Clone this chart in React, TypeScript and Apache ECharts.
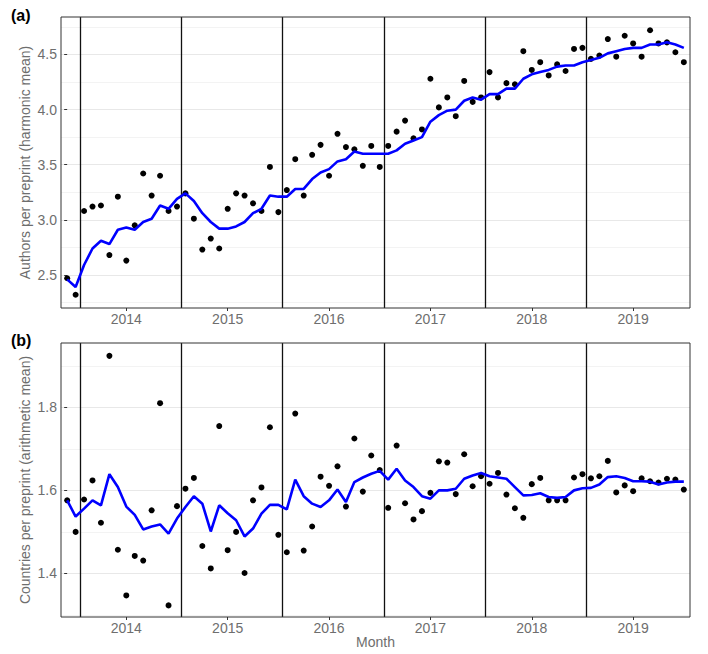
import React, { useEffect, useRef } from "react";
import * as echarts from "echarts";

// Months: Nov 2013 .. Dec 2019 (74 months)
const years = [2013, 2014, 2015, 2016, 2017, 2018, 2019];
const months: string[] = [];
years.forEach((y) => {
  for (let m = 1; m <= 12; m++) {
    if (y === 2013 && m < 11) continue;
    months.push(`${y}-${String(m).padStart(2, "0")}`);
  }
});

const yearLabels = ["2014", "2015", "2016", "2017", "2018", "2019"];

// Panel (a): authors per preprint (harmonic mean)
const authorsPoints = [
  2.47, 2.32,
  3.08, 3.12, 3.13, 2.68, 3.21, 2.63, 2.95, 3.42, 3.22, 3.40, 3.08, 3.12,
  3.24, 3.01, 2.73, 2.83, 2.74, 3.10, 3.24, 3.22, 3.15, 3.08, 3.48, 3.07,
  3.27, 3.55, 3.22, 3.59, 3.68, 3.40, 3.78, 3.66, 3.64, 3.49, 3.67, 3.48,
  3.67, 3.80, 3.90, 3.74, 3.82, 4.28, 4.02, 4.11, 3.94, 4.26, 4.07, 4.11,
  4.34, 4.11, 4.24, 4.23, 4.53, 4.36, 4.43, 4.31, 4.41, 4.35, 4.55, 4.56,
  4.46, 4.49, 4.64, 4.48, 4.67, 4.60, 4.48, 4.72, 4.60, 4.61, 4.52, 4.43,
];
const authorsTrend = [
  2.46, 2.39,
  2.59, 2.74, 2.81, 2.78, 2.91, 2.93, 2.91, 2.98, 3.01, 3.13, 3.10, 3.19,
  3.24, 3.17, 3.06, 2.98, 2.92, 2.92, 2.94, 2.98, 3.06, 3.10, 3.22, 3.21,
  3.21, 3.28, 3.28, 3.37, 3.43, 3.46, 3.53, 3.55, 3.62, 3.60, 3.60, 3.60,
  3.60, 3.63, 3.69, 3.72, 3.75, 3.89, 3.95, 3.99, 4.00, 4.08, 4.11, 4.09,
  4.14, 4.14, 4.19, 4.19, 4.28, 4.32, 4.34, 4.36, 4.39, 4.40, 4.40, 4.43,
  4.45, 4.47, 4.51, 4.53, 4.55, 4.56, 4.56, 4.59, 4.59, 4.61, 4.59, 4.56,
];

// Panel (b): countries per preprint (arithmetic mean)
const countriesPoints = [
  1.576, 1.5,
  1.578, 1.624, 1.522, 1.924, 1.457, 1.347, 1.442, 1.431, 1.552, 1.81, 1.323, 1.562,
  1.604, 1.63, 1.466, 1.412, 1.755, 1.456, 1.5, 1.401, 1.576, 1.607, 1.752, 1.493,
  1.451, 1.785, 1.455, 1.513, 1.633, 1.611, 1.658, 1.561, 1.725, 1.597, 1.684, 1.649,
  1.558, 1.708, 1.569, 1.53, 1.55, 1.594, 1.67, 1.667, 1.591, 1.687, 1.61, 1.634,
  1.616, 1.642, 1.59, 1.557, 1.534, 1.615, 1.63, 1.576, 1.576, 1.576, 1.631, 1.639,
  1.629, 1.634, 1.671, 1.595, 1.612, 1.598, 1.629, 1.622, 1.619, 1.628, 1.626, 1.602,
];
const countriesTrend = [
  1.576, 1.537,
  1.556, 1.576, 1.564, 1.639, 1.608, 1.561, 1.541, 1.506, 1.513, 1.518, 1.496, 1.532,
  1.56, 1.586, 1.568, 1.501, 1.564, 1.545, 1.528, 1.489, 1.508, 1.544, 1.565, 1.565,
  1.554, 1.626, 1.586, 1.568, 1.56, 1.576, 1.602, 1.572, 1.62, 1.631, 1.64, 1.647,
  1.626, 1.652, 1.624, 1.608, 1.586, 1.58, 1.6, 1.6, 1.604, 1.628, 1.636, 1.642,
  1.634, 1.631, 1.628, 1.608, 1.588, 1.589, 1.593, 1.584, 1.582, 1.584, 1.6, 1.605,
  1.606, 1.614, 1.632, 1.634, 1.63, 1.622, 1.622, 1.621, 1.614, 1.619, 1.621, 1.621,
];

const authorsMajor = [2.5, 3.0, 3.5, 4.0, 4.5];
const authorsMinor = [2.25, 2.75, 3.25, 3.75, 4.25, 4.75];
const countriesMajor = [1.4, 1.6, 1.8];
const countriesMinor = [1.3, 1.5, 1.7, 1.9];

const FONT = "'Liberation Sans', Arial, Helvetica, sans-serif";
const TEXT_GRAY = "#6e6e6e";

const idx = (label: string) => months.indexOf(label);
const yearStarts = yearLabels.map((y) => idx(`${y}-01`) - 0.5);
const yearMids = yearLabels.map((y) => idx(`${y}-06`));

function App() {
  const ref = useRef<HTMLDivElement>(null);
  useEffect(() => {
    document.body.style.margin = "0";
    if (!ref.current) return;
    const chart = echarts.init(ref.current, undefined, { renderer: "svg" });

    const xAxisFor = (gridIndex: number) => ({
      type: "value",
      gridIndex,
      min: -0.73,
      max: months.length - 1 + 0.73,
      splitLine: { show: false },
      axisLine: { show: false },
      axisTick: {
        show: true,
        length: 3,
        customValues: yearMids,
        lineStyle: { color: "#333", width: 1 },
      },
      axisLabel: {
        customValues: yearMids,
        color: TEXT_GRAY,
        fontSize: 14,
        fontFamily: FONT,
        margin: 4,
        formatter: (v: number) => yearLabels[yearMids.indexOf(Math.round(v))] ?? "",
      },
      ...(gridIndex === 1
        ? {
            name: "Month",
            nameLocation: "middle",
            nameGap: 18,
            nameMoveOverlap: false,
            nameTextStyle: { color: TEXT_GRAY, fontSize: 14, fontFamily: FONT, verticalAlign: "top" },
          }
        : {}),
    });

    const yAxisFor = (gridIndex: number, min: number, max: number, ticks: number[], name: string) => ({
      type: "value",
      gridIndex,
      min,
      max,
      name,
      nameLocation: "middle",
      nameGap: 29,
      nameMoveOverlap: false,
      nameTextStyle: { color: TEXT_GRAY, fontSize: 14, fontFamily: FONT },
      splitLine: { show: false },
      axisLine: { show: false },
      axisTick: {
        show: true,
        length: 3,
        customValues: ticks,
        lineStyle: { color: "#333", width: 1 },
      },
      axisLabel: {
        customValues: ticks,
        color: TEXT_GRAY,
        fontSize: 14,
        fontFamily: FONT,
        margin: 4,
        formatter: (v: number) => v.toFixed(1),
      },
    });

    const gridLines = (major: number[], minor: number[]) => ({
      silent: true,
      symbol: ["none", "none"],
      z: 0,
      label: { show: false },
      emphasis: { disabled: true },
      data: [
        ...minor.map((v) => ({ yAxis: v, lineStyle: { color: "#f0f0f0", width: 0.8, type: "solid" } })),
        ...major.map((v) => ({ yAxis: v, lineStyle: { color: "#e8e8e8", width: 1, type: "solid" } })),
      ],
    });

    const yearLines = {
      silent: true,
      symbol: ["none", "none"],
      z: 1,
      label: { show: false },
      emphasis: { disabled: true },
      data: yearStarts.map((x) => ({ xAxis: x, lineStyle: { color: "#111", width: 1.3, type: "solid" } })),
    };

    const pts = (arr: number[]) => arr.map((v, i) => [i, v]);

    const panel = (gi: number, points: number[], trend: number[], major: number[], minor: number[]) => [
      {
        type: "scatter",
        xAxisIndex: gi,
        yAxisIndex: gi,
        data: pts(points),
        symbolSize: 6,
        itemStyle: { color: "#000", opacity: 1 },
        z: 2,
        markLine: yearLines,
      },
      {
        type: "line",
        xAxisIndex: gi,
        yAxisIndex: gi,
        data: pts(trend),
        showSymbol: false,
        lineStyle: { color: "#0000ff", width: 2.6 },
        z: 3,
        markLine: gridLines(major, minor),
      },
    ];

    chart.setOption({
      animation: false,
      backgroundColor: "#ffffff",
      textStyle: { fontFamily: FONT },
      grid: [
        { left: 61, right: 18, top: 17, height: 291, show: true, borderColor: "#333", borderWidth: 1, backgroundColor: "transparent", z: 4 },
        { left: 61, right: 18, top: 343, height: 274, show: true, borderColor: "#333", borderWidth: 1, backgroundColor: "transparent", z: 4 },
      ],
      xAxis: [xAxisFor(0), xAxisFor(1)],
      yAxis: [
        yAxisFor(0, 2.2, 4.84, authorsMajor, "Authors per preprint (harmonic mean)"),
        yAxisFor(1, 1.295, 1.955, countriesMajor, "Countries per preprint (arithmetic mean)"),
      ],
      graphic: [
        { type: "text", left: 11, top: 7, style: { text: "(a)", fontSize: 16, fontWeight: "bold", fontFamily: FONT, fill: "#000" } },
        { type: "text", left: 11, top: 332, style: { text: "(b)", fontSize: 16, fontWeight: "bold", fontFamily: FONT, fill: "#000" } },
      ],
      series: [
        ...panel(0, authorsPoints, authorsTrend, authorsMajor, authorsMinor),
        ...panel(1, countriesPoints, countriesTrend, countriesMajor, countriesMinor),
      ],
    });
    return () => chart.dispose();
  }, []);
  return <div ref={ref} style={{ width: 708, height: 654 }} />;
}

export default App;
